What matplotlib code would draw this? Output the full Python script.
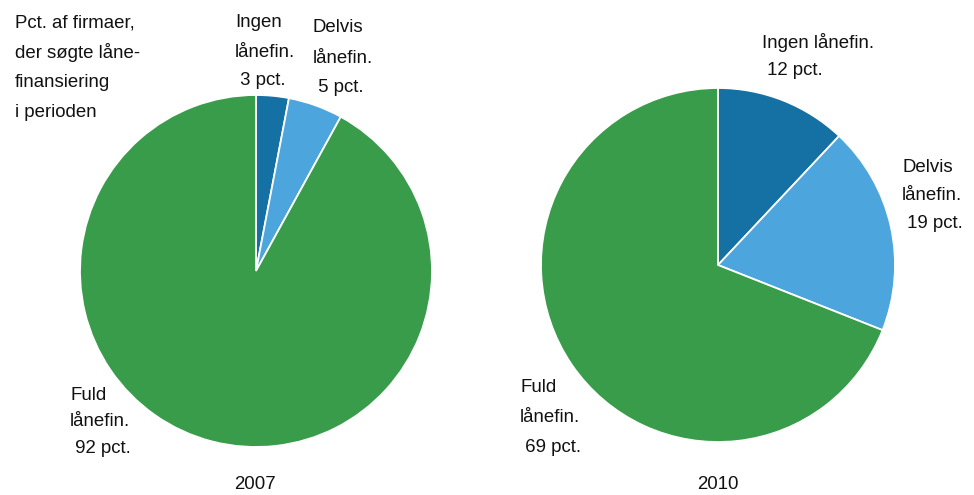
import matplotlib
matplotlib.use("Agg")
import matplotlib.pyplot as plt

plt.rcParams['font.family'] = ['Liberation Sans', 'DejaVu Sans']

categories = ["Ingen lånefin.", "Delvis lånefin.", "Fuld lånefin."]
values_2007 = [3, 5, 92]
values_2010 = [12, 19, 69]
years = ["2007", "2010"]
colors = ["#1570a3", "#4ca5dc", "#389c4b"]

W, H = 974, 495
fig = plt.figure(figsize=(W / 100, H / 100), dpi=100)


def px(x, y):
    return x / W, 1 - y / H


def pie_axes(cx, cy, r):
    return fig.add_axes([(cx - r) / W, (H - cy - r) / H, 2 * r / W, 2 * r / H])


ax1 = pie_axes(256, 271, 176)
ax2 = pie_axes(718, 265, 177)
for ax, vals in ((ax1, values_2007), (ax2, values_2010)):
    ax.pie(vals, colors=colors, startangle=90, counterclock=False,
           wedgeprops=dict(edgecolor="white", linewidth=1.3))
    ax.set_xlim(-1, 1)
    ax.set_ylim(-1, 1)
    ax.set_axis_off()

fs = 13.4


def label(x, baselines, lines, ha="left"):
    for yb, s in zip(baselines, lines):
        fig.text(*px(x, yb), s, fontsize=fs, ha=ha, va="baseline", color="#111111")


label(15, [28, 58, 87, 117], ["Pct. af firmaer,", "der søgte låne-", "finansiering", "i perioden"])

# 2007 labels
label(235, [27, 57, 85], ["Ingen", "lånefin.", " %d pct." % values_2007[0]])
label(313, [32, 63, 92], ["Delvis", "lånefin.", " %d pct." % values_2007[1]])
label(70, [400, 426, 453], ["Fuld", "lånefin.", " %d pct." % values_2007[2]])

# 2010 labels
label(762, [48, 75], ["Ingen lånefin.", " %d pct." % values_2010[0]])
label(902, [172, 200, 228], ["Delvis", "lånefin.", " %d pct." % values_2010[1]])
label(520, [392, 422, 452], ["Fuld", "lånefin.", " %d pct." % values_2010[2]])

label(255, [489], [years[0]], ha="center")
label(718, [489], [years[1]], ha="center")

fig.savefig("out.png", dpi=100)
